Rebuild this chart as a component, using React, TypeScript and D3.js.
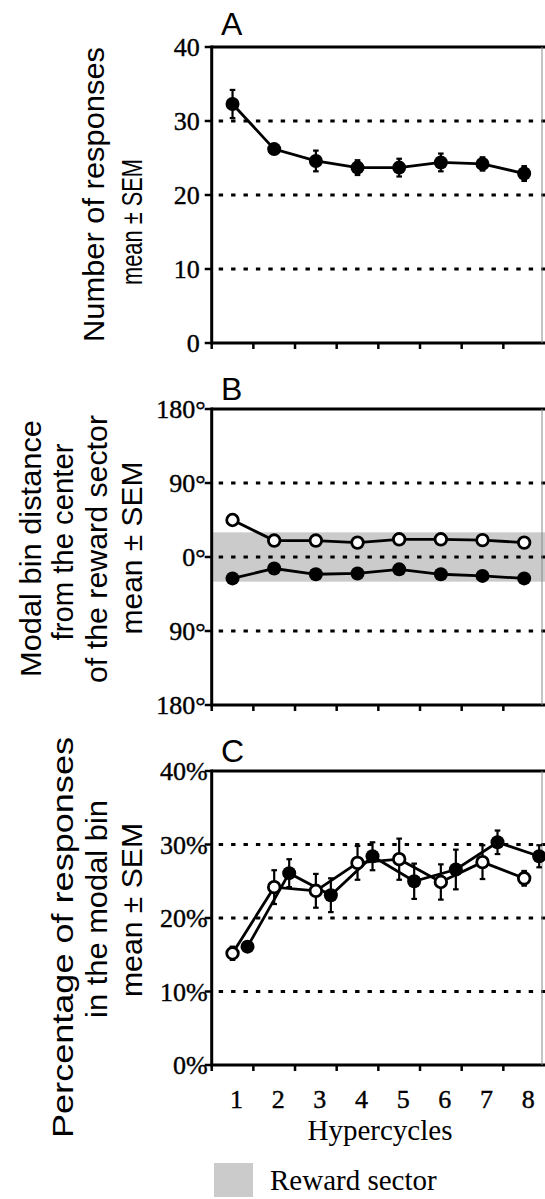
import { useEffect, useRef } from 'react';
import { line, scaleBand, scaleLinear, select } from 'd3';

// hypercycles on the shared x axis
const hypercycles = ['1', '2', '3', '4', '5', '6', '7', '8'];

// A: number of responses (filled only)
const responsesMean = [32.3, 26.2, 24.6, 23.7, 23.7, 24.4, 24.2, 22.9];
const responsesSem = [1.9, 0.6, 1.4, 1.0, 1.2, 1.2, 0.9, 1.0];

// B: modal bin distance from reward centre (degrees)
const distOpenMean = [45, 20, 20, 17.5, 21.5, 21.5, 20.5, 17.5];
const distOpenSem = [6, 2, 2, 2, 2, 5, 2, 4];
const distFilledMean = [-26, -14, -21, -20, -15, -21, -23, -26];
const distFilledSem = [2, 4, 2, 2, 2, 2, 2, 2];
const rewardSector = [-30, 30];

// C: percentage of responses in modal bin
const pctOpenMean = [15.2, 24.2, 23.7, 27.5, 28.0, 24.9, 27.6, 25.4];
const pctOpenSem = [0.9, 2.3, 2.3, 2.3, 2.8, 2.4, 2.3, 1.0];
const pctFilledMean = [16.1, 26.1, 23.1, 28.4, 25.0, 26.6, 30.3, 28.4];
const pctFilledSem = [0.4, 1.9, 2.3, 1.9, 2.4, 2.7, 1.6, 1.5];

const countTicks = [0, 10, 20, 30, 40];
const countTickLabels = ['0', '10', '20', '30', '40'];
const degTicks = [-180, -90, 0, 90, 180];
const degTickLabels = ['180°', '90°', '0°', '90°', '180°'];
const pctTicks = [0, 10, 20, 30, 40];
const pctTickLabels = ['0%', '10%', '20%', '30%', '40%'];

const W = 545;
const H = 1199;
const X0 = 211.7;
const RIGHT = 545;
const SERIF = '"Liberation Serif", "Times New Roman", serif';
const SANS = '"Liberation Sans", Arial, sans-serif';
const GREY = '#cbcbcb';

export default function App() {
  const svgRef = useRef<SVGSVGElement | null>(null);

  useEffect(() => {
    document.body.style.margin = '0';
    const svgElement = svgRef.current;
    if (!svgElement) return;
    const svg = select(svgElement);
    svg.selectAll('*').remove();

    const x = scaleBand<string>().domain(hypercycles).range([X0, RIGHT]);
    const xc = (d: string) => (x(d) ?? 0) + x.bandwidth() / 2;

    const yA = scaleLinear().domain([0, 40]).range([343, 47]);
    const yB = scaleLinear().domain([-180, 180]).range([705, 409]);
    const yC = scaleLinear().domain([0, 40]).range([1065, 771]);

    const frame = (y: any, ticks: number[], labels: string[], labelGap: number) => {
      const g = svg.append('g');
      const [lo, hi] = y.domain();
      g.selectAll('line.grid')
        .data(ticks.filter((t) => t !== lo && t !== hi))
        .join('line')
        .attr('x1', X0 + 7)
        .attr('x2', RIGHT)
        .attr('y1', (t) => y(t))
        .attr('y2', (t) => y(t))
        .attr('stroke', '#000')
        .attr('stroke-width', 3)
        .attr('stroke-dasharray', '4.4 8');
      g.append('line').attr('x1', X0).attr('x2', X0).attr('y1', y(hi) - 1.5).attr('y2', y(lo) + 1.5).attr('stroke', '#000').attr('stroke-width', 3);
      g.append('line').attr('x1', X0).attr('x2', RIGHT).attr('y1', y(hi)).attr('y2', y(hi)).attr('stroke', '#000').attr('stroke-width', 3);
      g.append('line').attr('x1', X0).attr('x2', RIGHT).attr('y1', y(lo)).attr('y2', y(lo)).attr('stroke', '#000').attr('stroke-width', 3);
      g.append('line').attr('x1', 542).attr('x2', 542).attr('y1', y(hi)).attr('y2', y(lo)).attr('stroke', '#888').attr('stroke-width', 1);
      g.selectAll('line.ytick')
        .data(ticks)
        .join('line')
        .attr('x1', X0 - 7)
        .attr('x2', X0)
        .attr('y1', (t) => y(t))
        .attr('y2', (t) => y(t))
        .attr('stroke', '#000')
        .attr('stroke-width', 2.5);
      g.selectAll('text.ylab')
        .data(ticks)
        .join('text')
        .attr('x', X0 - labelGap)
        .attr('y', (t) => y(t))
        .attr('dy', '0.36em')
        .attr('text-anchor', 'end')
        .attr('font-family', SERIF)
        .attr('font-size', 26)
        .attr('stroke', '#000')
        .attr('stroke-width', 0.4)
        .text((_, i) => labels[i]);
      g.selectAll('line.xtick')
        .data(hypercycles)
        .join('line')
        .attr('x1', (d) => x(d) ?? 0)
        .attr('x2', (d) => x(d) ?? 0)
        .attr('y1', y(lo))
        .attr('y2', y(lo) + 6)
        .attr('stroke', '#000')
        .attr('stroke-width', 2.5);
      return g;
    };

    const series = (y: any, means: number[], sems: number[], dx: number, filled: boolean) => {
      const g = svg.append('g');
      const pts = hypercycles.map((d, i) => ({ cx: xc(d) + dx, m: means[i], s: sems[i] }));
      const path = line<{ cx: number; m: number }>()
        .x((p) => p.cx)
        .y((p) => y(p.m));
      g.append('path').attr('d', path(pts)).attr('fill', 'none').attr('stroke', '#000').attr('stroke-width', 2.8);
      const eb = g.selectAll('g.eb').data(pts).join('g');
      eb.append('line').attr('x1', (p) => p.cx).attr('x2', (p) => p.cx).attr('y1', (p) => y(p.m - p.s)).attr('y2', (p) => y(p.m + p.s)).attr('stroke', '#000').attr('stroke-width', 2.2);
      [1, -1].forEach((sgn) => {
        eb.append('line')
          .attr('x1', (p) => p.cx - 2.8)
          .attr('x2', (p) => p.cx + 2.8)
          .attr('y1', (p) => y(p.m + sgn * p.s))
          .attr('y2', (p) => y(p.m + sgn * p.s))
          .attr('stroke', '#000')
          .attr('stroke-width', 2.2);
      });
      g.selectAll('circle')
        .data(pts)
        .join('circle')
        .attr('cx', (p) => p.cx)
        .attr('cy', (p) => y(p.m))
        .attr('r', filled ? 7 : 5.8)
        .attr('fill', filled ? '#000' : '#fff')
        .attr('stroke', '#000')
        .attr('stroke-width', filled ? 0 : 2.8);
    };

    // panel A
    frame(yA, countTicks, countTickLabels, 12);
    series(yA, responsesMean, responsesSem, 0, true);

    // panel B
    svg.append('rect')
      .attr('x', X0 + 1.5)
      .attr('y', yB(rewardSector[1]))
      .attr('width', RIGHT - X0 - 1.5)
      .attr('height', yB(rewardSector[0]) - yB(rewardSector[1]))
      .attr('fill', GREY);
    frame(yB, degTicks, degTickLabels, 6);
    series(yB, distFilledMean, distFilledSem, 0, true);
    series(yB, distOpenMean, distOpenSem, 0, false);

    // panel C
    frame(yC, pctTicks, pctTickLabels, 4);
    series(yC, pctFilledMean, pctFilledSem, x.bandwidth() * 0.36, true);
    series(yC, pctOpenMean, pctOpenSem, 0, false);

    // panel letters
    [['A', 35], ['B', 400], ['C', 762]].forEach(([t, yy]) => {
      svg.append('text').attr('x', 221).attr('y', yy as number).attr('font-family', SANS).attr('font-size', 32).text(t as string);
    });

    // x tick labels and title
    svg.selectAll('text.xlab')
      .data(hypercycles)
      .join('text')
      .attr('x', (d) => xc(d) + 4)
      .attr('y', 1108)
      .attr('text-anchor', 'middle')
      .attr('font-family', SERIF)
      .attr('font-size', 26)
      .attr('stroke', '#000')
      .attr('stroke-width', 0.4)
      .text((d) => d);
    svg.append('text').attr('x', 380).attr('y', 1140).attr('text-anchor', 'middle').attr('font-family', SERIF).attr('font-size', 29).text('Hypercycles');

    // legend
    svg.append('rect').attr('x', 214).attr('y', 1163).attr('width', 39).attr('height', 34).attr('fill', GREY);
    svg.append('text').attr('x', 270).attr('y', 1190).attr('font-family', SERIF).attr('font-size', 29).text('Reward sector');

    // rotated y titles: [text, baseline x, centre y, length]
    const titles: [string, number, number, number][] = [
      ['Number of responses', 104, 194.5, 295],
      ['mean ± SEM', 142, 222, 126],
      ['Modal bin distance', 41, 548.5, 257],
      ['from the center', 73, 542, 197],
      ['of the reward sector', 107, 549, 268],
      ['mean ± SEM', 142, 548, 173],
      ['Percentage of responses', 73, 937.5, 401],
      ['in the modal bin', 107, 909, 218],
      ['mean ± SEM', 142, 910, 174],
    ];
    titles.forEach(([t, bx, cy, len]) => {
      svg.append('text')
        .attr('transform', `translate(${bx},${cy}) rotate(-90)`)
        .attr('text-anchor', 'middle')
        .attr('font-family', SANS)
        .attr('font-size', 30)
        .attr('textLength', len)
        .attr('lengthAdjust', 'spacingAndGlyphs')
        .text(t);
    });
  }, []);

  return (
    <svg
      ref={svgRef}
      width={W}
      height={H}
      style={{ position: 'absolute', left: 0, top: 0, background: '#fff' }}
    />
  );
}
